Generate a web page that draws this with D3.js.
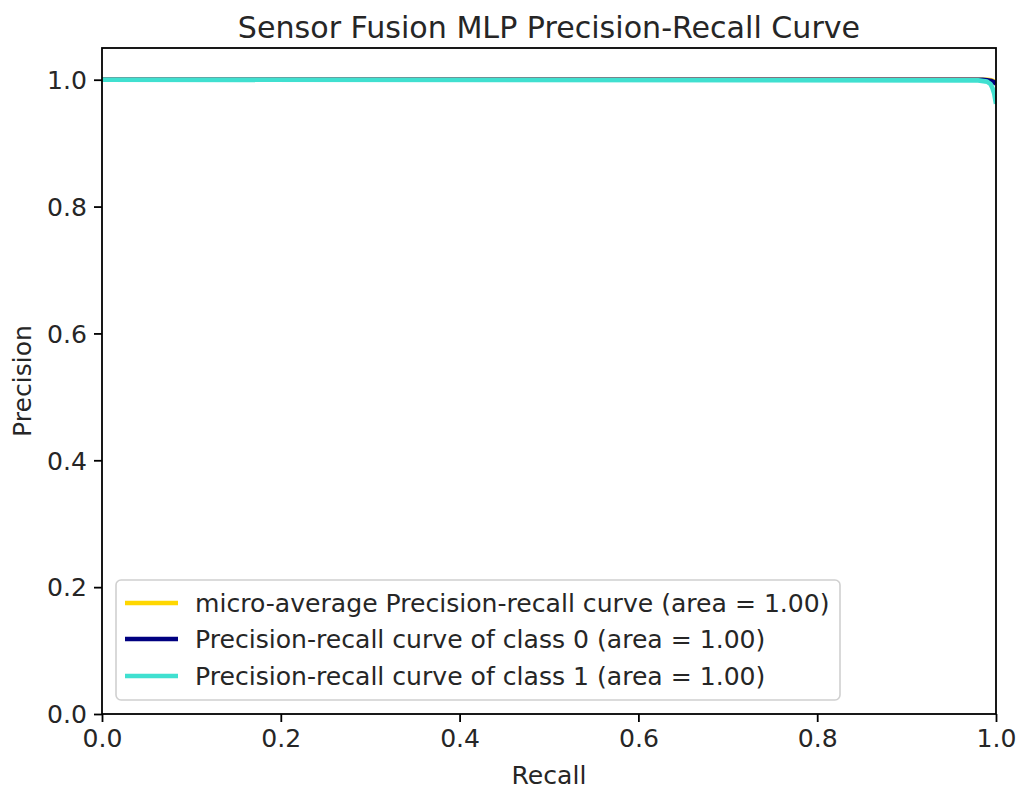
<!DOCTYPE html>
<html>
<head>
<meta charset="utf-8">
<script src="https://cdn.jsdelivr.net/npm/d3@7"></script>
<style>
  body { margin: 0; background: #fff; }
  svg { display: block; font-family: "DejaVu Sans", sans-serif; }
</style>
</head>
<body>
<svg id="chart" width="1019" height="788"></svg>
<script>
// ---- data ----
const xTicks = [0.0, 0.2, 0.4, 0.6, 0.8, 1.0];
const yTicks = [0.0, 0.2, 0.4, 0.6, 0.8, 1.0];

const microRecall    = [0.0, 0.99, 0.995, 0.998, 1.0];
const microPrecision = [1.0, 1.0, 0.999, 0.997, 0.994];

const class0Recall    = [0.0, 0.985, 0.99, 0.995, 0.998, 1.0];
const class0Precision = [1.0, 1.0, 0.999, 0.998, 0.996, 0.994];

const class1Recall    = [0.0, 0.98, 0.99, 0.994, 0.996, 0.998, 0.999, 1.0];
const class1Precision = [1.0, 0.999, 0.997, 0.993, 0.987, 0.978, 0.970, 0.962];

const seriesNames  = [
  "micro-average Precision-recall curve (area = 1.00)",
  "Precision-recall curve of class 0 (area = 1.00)",
  "Precision-recall curve of class 1 (area = 1.00)"
];
const seriesColors = ["gold", "navy", "turquoise"];

// ---- layout ----
const svg = d3.select("#chart");
const L = 102, R = 996, T = 48, B = 714;
const x = d3.scaleLinear().domain([0, 1]).range([L, R]);
const y = d3.scaleLinear().domain([0, 1.05]).range([B, T]);

const series = [
  { r: microRecall,  p: microPrecision },
  { r: class0Recall, p: class0Precision },
  { r: class1Recall, p: class1Precision }
];

svg.append("defs").append("clipPath").attr("id", "clip")
  .append("rect").attr("x", L).attr("y", T).attr("width", R - L).attr("height", B - T);

const line = d3.line().x(d => x(d[0])).y(d => y(d[1]));
const plot = svg.append("g").attr("clip-path", "url(#clip)");
series.forEach((s, i) => {
  plot.append("path")
    .datum(s.r.map((r, j) => [r, s.p[j]]))
    .attr("d", line)
    .attr("fill", "none")
    .attr("stroke", seriesColors[i])
    .attr("stroke-width", 4.6)
    .attr("stroke-linejoin", "round");
});

// axes
const fs = 25.1;
const xAxis = d3.axisBottom(x).tickValues(xTicks).tickFormat(d3.format(".1f")).tickSize(8).tickPadding(7);
const yAxis = d3.axisLeft(y).tickValues(yTicks).tickFormat(d3.format(".1f")).tickSize(8).tickPadding(7);
const gx = svg.append("g").attr("transform", `translate(0,${B})`).call(xAxis);
const gy = svg.append("g").attr("transform", `translate(${L},0)`).call(yAxis);
[gx, gy].forEach(g => {
  g.select(".domain").remove();
  g.selectAll(".tick line").attr("stroke", "#000").attr("stroke-width", 1.8);
  g.selectAll(".tick text").attr("font-size", fs).attr("fill", "#262626")
    .attr("font-family", "DejaVu Sans");
});
gy.selectAll(".tick text").attr("dy", "0.35em");

// spines
svg.append("rect").attr("x", L).attr("y", T).attr("width", R - L).attr("height", B - T)
  .attr("fill", "none").attr("stroke", "#000").attr("stroke-width", 1.8);

// title & labels
svg.append("text").attr("x", (L + R) / 2).attr("y", 27).attr("text-anchor", "middle")
  .attr("dominant-baseline", "central").attr("font-size", 30.1).attr("fill", "#262626")
  .text("Sensor Fusion MLP Precision-Recall Curve");
svg.append("text").attr("x", (L + R) / 2).attr("y", 775).attr("text-anchor", "middle")
  .attr("dominant-baseline", "central").attr("font-size", fs).attr("fill", "#262626")
  .text("Recall");
svg.append("text").attr("transform", `translate(22,${(T + B) / 2}) rotate(-90)`)
  .attr("text-anchor", "middle").attr("dominant-baseline", "central")
  .attr("font-size", fs).attr("fill", "#262626").text("Precision");

// legend
const lg = svg.append("g");
lg.append("rect").attr("x", 116).attr("y", 580).attr("width", 724).attr("height", 120)
  .attr("rx", 5).attr("fill", "#fff").attr("fill-opacity", 0.8)
  .attr("stroke", "#d0d0d0").attr("stroke-width", 1.6);
const rowY = [603, 639, 676];
seriesNames.forEach((n, i) => {
  lg.append("line").attr("x1", 125).attr("x2", 178).attr("y1", rowY[i]).attr("y2", rowY[i])
    .attr("stroke", seriesColors[i]).attr("stroke-width", 4.6);
  lg.append("text").attr("x", 195).attr("y", rowY[i]).attr("dominant-baseline", "central")
    .attr("font-size", fs).attr("fill", "#262626").text(n);
});
</script>
</body>
</html>
